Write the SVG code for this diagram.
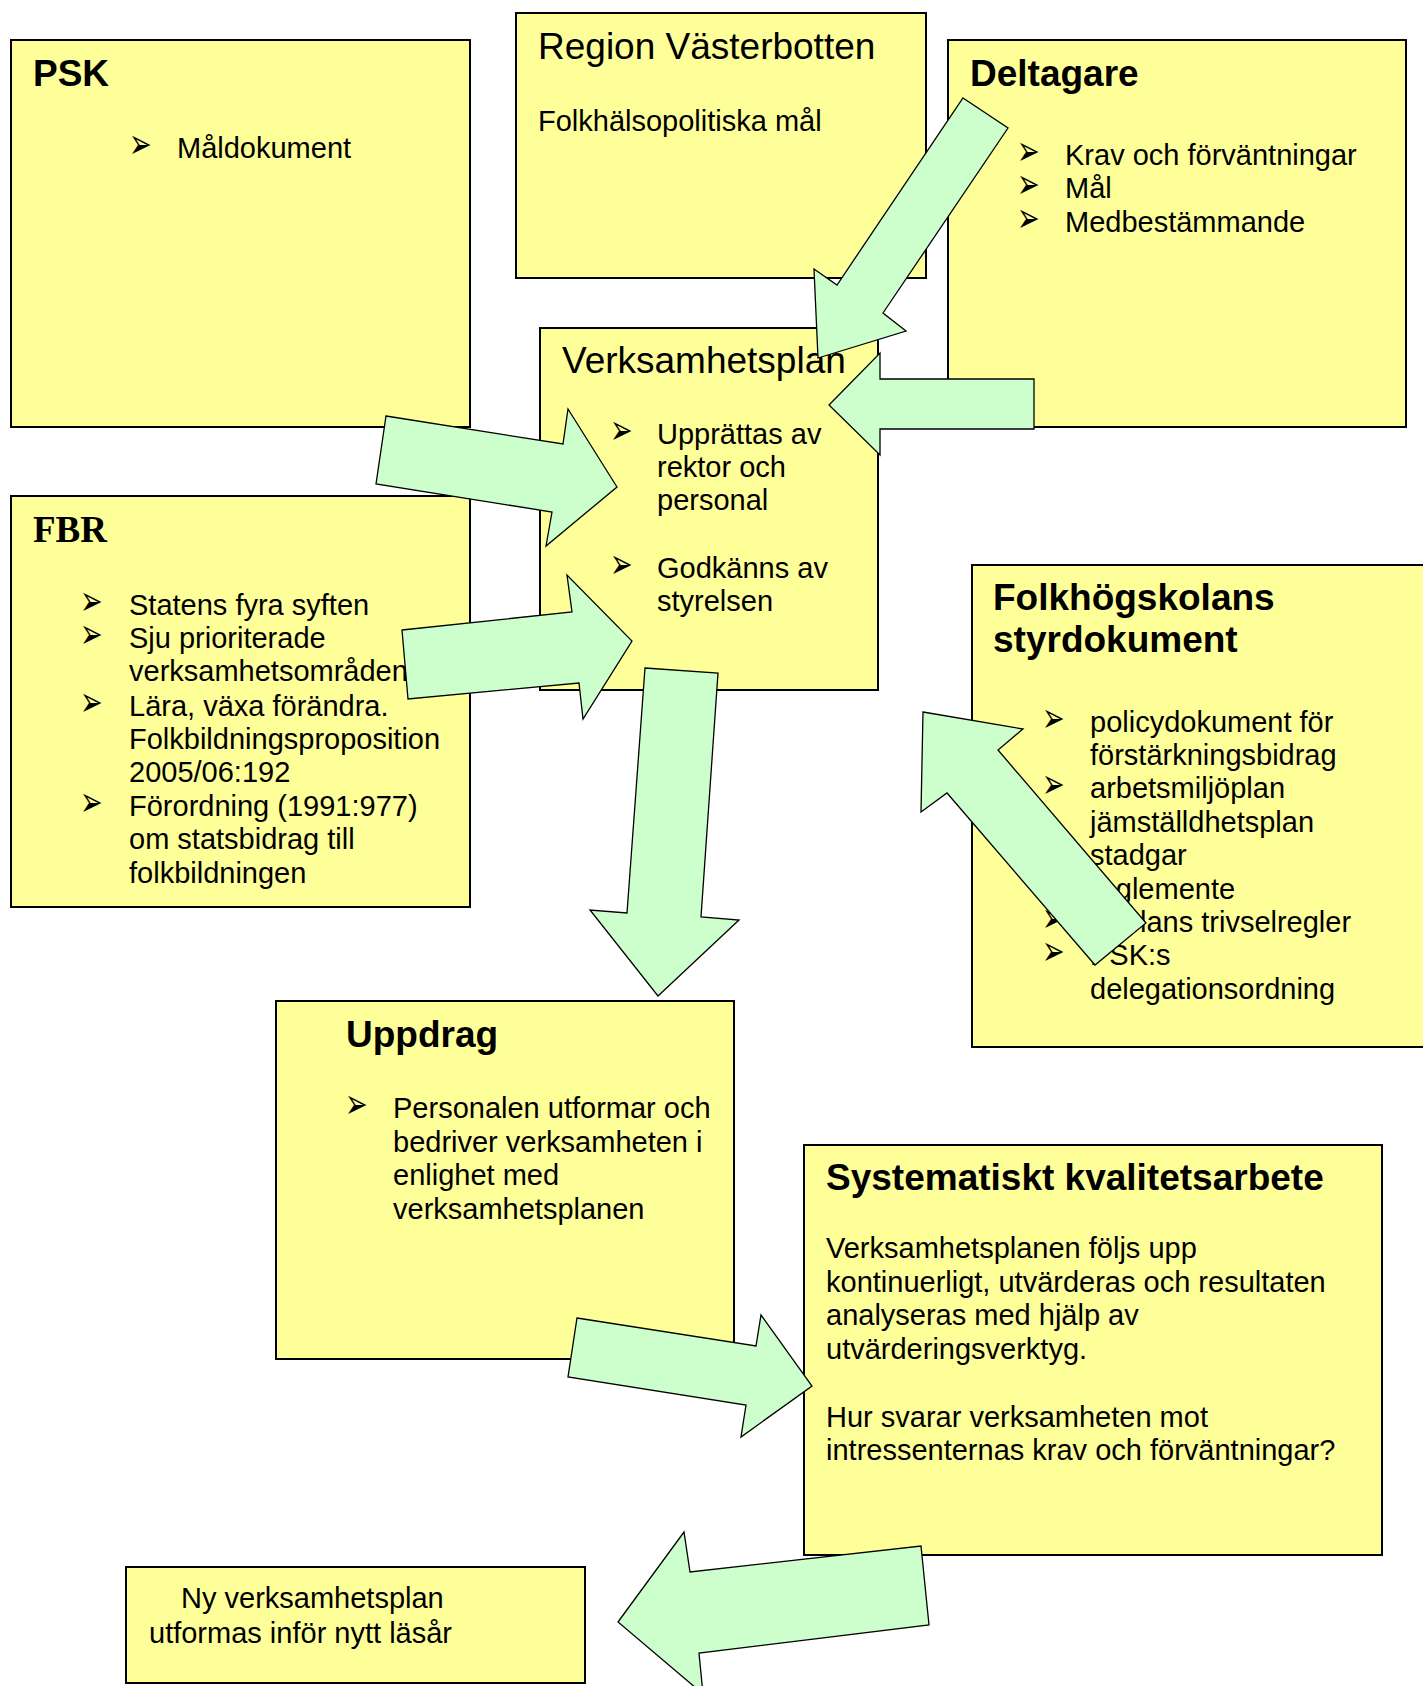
<svg xmlns="http://www.w3.org/2000/svg" width="1423" height="1686" viewBox="0 0 1423 1686">
<style>
.box{fill:#FFFF99;stroke:#000;stroke-width:2}
.arr{fill:#CCFFCC;stroke:#000;stroke-width:1.3;stroke-linejoin:miter}
.h{font-family:"Liberation Sans",Arial,sans-serif;font-weight:bold;font-size:37px;fill:#000}
.hr{font-family:"Liberation Sans",Arial,sans-serif;font-size:37px;fill:#000}
.hs{font-family:"Liberation Serif","Times New Roman",serif;font-weight:bold;font-size:37px;fill:#000}
.t{font-family:"Liberation Sans",Arial,sans-serif;font-size:29px;fill:#000}
.b{font-family:"DejaVu Sans",sans-serif;font-size:27px;fill:#000}
</style>
<defs>
<text id="bul" class="b" transform="scale(1,1.55)">➢</text>
</defs>
<rect width="1423" height="1686" fill="#fff"/>
<g id="psk">
<rect class="box" x="11" y="40" width="459" height="387"/>
<text class="h" x="33" y="86">PSK</text>
<use href="#bul" x="129" y="158"/>
<text class="t" x="177" y="158">Måldokument</text>
</g>
<g id="region">
<rect class="box" x="516" y="13" width="410" height="265"/>
<text class="hr" x="538" y="59">Region Västerbotten</text>
<text class="t" x="538" y="131">Folkhälsopolitiska mål</text>
</g>
<g id="deltagare">
<rect class="box" x="948" y="40" width="458" height="387"/>
<text class="h" x="970" y="86">Deltagare</text>
<use href="#bul" x="1017" y="165"/>
<text class="t" x="1065" y="165">Krav och förväntningar</text>
<use href="#bul" x="1017" y="198"/>
<text class="t" x="1065" y="198">Mål</text>
<use href="#bul" x="1017" y="232"/>
<text class="t" x="1065" y="232">Medbestämmande</text>
</g>
<g id="fbr">
<rect class="box" x="11" y="496" width="459" height="411"/>
<text class="hs" x="33" y="542">FBR</text>
<use href="#bul" x="80" y="615"/>
<text class="t" x="129" y="615">Statens fyra syften</text>
<use href="#bul" x="80" y="648"/>
<text class="t" x="129" y="648">Sju prioriterade</text>
<text class="t" x="129" y="681">verksamhetsområden</text>
<use href="#bul" x="80" y="716"/>
<text class="t" x="129" y="716">Lära, växa förändra.</text>
<text class="t" x="129" y="749">Folkbildningsproposition</text>
<text class="t" x="129" y="782">2005/06:192</text>
<use href="#bul" x="80" y="816"/>
<text class="t" x="129" y="816">Förordning (1991:977)</text>
<text class="t" x="129" y="849">om statsbidrag till</text>
<text class="t" x="129" y="883">folkbildningen</text>
</g>
<g id="verksamhetsplan">
<rect class="box" x="540" y="328" width="338" height="362"/>
<text class="hr" x="562" y="373">Verksamhetsplan</text>
<use href="#bul" x="610" y="444"/>
<text class="t" x="657" y="444">Upprättas av</text>
<text class="t" x="657" y="477">rektor och</text>
<text class="t" x="657" y="510">personal</text>
<use href="#bul" x="610" y="578"/>
<text class="t" x="657" y="578">Godkänns av</text>
<text class="t" x="657" y="611">styrelsen</text>
</g>
<g id="styrdokument">
<rect class="box" x="972" y="565" width="460" height="482"/>
<text class="h" x="993" y="610">Folkhögskolans</text>
<text class="h" x="993" y="652">styrdokument</text>
<use href="#bul" x="1042" y="732"/>
<text class="t" x="1090" y="732">policydokument för</text>
<text class="t" x="1090" y="765">förstärkningsbidrag</text>
<use href="#bul" x="1042" y="798"/>
<text class="t" x="1090" y="798">arbetsmiljöplan</text>
<text class="t" x="1090" y="832">jämställdhetsplan</text>
<text class="t" x="1090" y="865">stadgar</text>
<text class="t" x="1090" y="899">reglemente</text>
<use href="#bul" x="1042" y="932"/>
<text class="t" x="1090" y="932">Skolans trivselregler</text>
<use href="#bul" x="1042" y="965"/>
<text class="t" x="1090" y="965">PSK:s</text>
<text class="t" x="1090" y="999">delegationsordning</text>
</g>
<g id="uppdrag">
<rect class="box" x="276" y="1001" width="458" height="358"/>
<text class="h" x="346" y="1047">Uppdrag</text>
<use href="#bul" x="345" y="1118"/>
<text class="t" x="393" y="1118">Personalen utformar och</text>
<text class="t" x="393" y="1152">bedriver verksamheten i</text>
<text class="t" x="393" y="1185">enlighet med</text>
<text class="t" x="393" y="1219">verksamhetsplanen</text>
</g>
<g id="kvalitet">
<rect class="box" x="804" y="1145" width="578" height="410"/>
<text class="h" x="826" y="1190">Systematiskt kvalitetsarbete</text>
<text class="t" x="826" y="1258">Verksamhetsplanen följs upp</text>
<text class="t" x="826" y="1292">kontinuerligt, utvärderas och resultaten</text>
<text class="t" x="826" y="1325">analyseras med hjälp av</text>
<text class="t" x="826" y="1359">utvärderingsverktyg.</text>
<text class="t" x="826" y="1427">Hur svarar verksamheten mot</text>
<text class="t" x="826" y="1460">intressenternas krav och förväntningar?</text>
</g>
<g id="ny">
<rect class="box" x="126" y="1567" width="459" height="116"/>
<text class="t" x="181" y="1608">Ny verksamhetsplan</text>
<text class="t" x="149" y="1643">utformas inför nytt läsår</text>
</g>
<g id="connectors">
<polygon class="arr" points="963,98 1008,128 883,313 906,331 818,358 814,269 837,285"/>
<polygon class="arr" points="1034,379 880,379 880,353 829,405 880,455 880,429 1034,429"/>
<polygon class="arr" points="386,416 563,444 568,409 617,487 546,546 552,512 376,484"/>
<polygon class="arr" points="402,630 572,612 567,575 632,641 583,719 579,683 408,699"/>
<polygon class="arr" points="645,668 718,673 701,917 739,920 658,996 590,910 627,913"/>
<polygon class="arr" points="923,712 1023,729 998,750 1146,923 1095,965 947,793 921,812"/>
<polygon class="arr" points="577,1318 756,1346 761,1315 812,1386 741,1437 746,1405 568,1377"/>
<polygon class="arr" points="618,1622 684,1532 690,1572 921,1546 929,1625 699,1653 703,1694"/>
</g>
</svg>
